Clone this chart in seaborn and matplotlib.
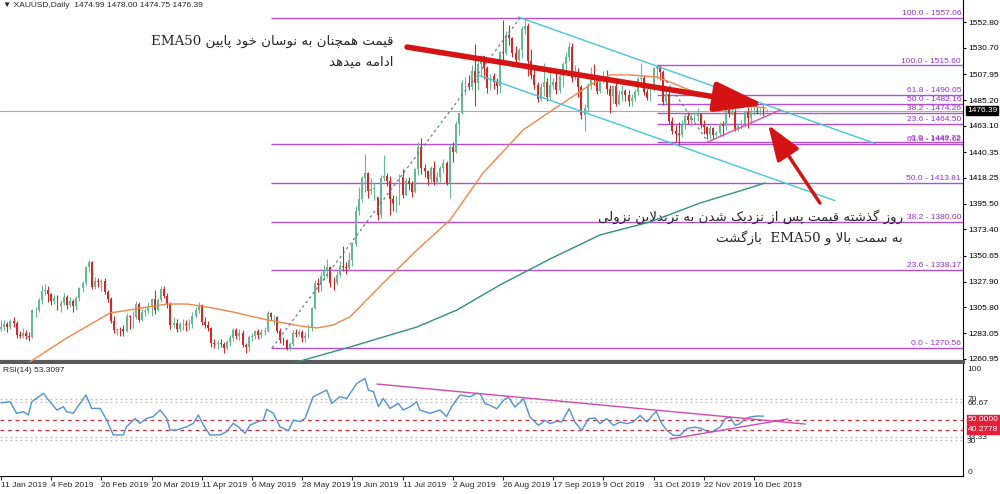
import re
import numpy as np
import matplotlib
matplotlib.use('Agg')
import matplotlib.pyplot as plt
import seaborn as sns

sns.set_theme(style='white')
plt.rcParams['font.family'] = ['Liberation Sans', 'DejaVu Sans']
plt.rcParams['axes.unicode_minus'] = False

# ---- داده ها: کندل های روزانه XAUUSD (اندیس کندل از 11 Jan 2019) ----
opens = [
    1287.0, 1289.0, 1291.5, 1288.5, 1294.0, 1292.0, 1282.0, 1280.5, 1283.5, 1281.0,
    1280.0, 1303.0, 1303.5, 1312.0, 1319.5, 1321.0, 1317.0, 1311.0, 1314.0, 1307.0,
    1309.5, 1314.5, 1308.0, 1311.0, 1306.5, 1314.0, 1322.5, 1327.0, 1340.5, 1345.0,
    1323.5, 1328.5, 1328.0, 1328.5, 1319.0, 1313.0, 1294.0, 1286.0, 1287.0, 1286.5,
    1285.0, 1298.5, 1297.0, 1297.5, 1309.0, 1295.0, 1302.0, 1302.5, 1306.0, 1313.0,
    1303.5, 1312.0, 1322.0, 1315.5, 1309.0, 1290.0, 1292.5, 1287.0, 1291.0, 1291.5,
    1290.0, 1291.5, 1298.0, 1303.0, 1307.5, 1293.0, 1290.5, 1287.5, 1274.5, 1273.5,
    1275.0, 1274.0, 1270.5, 1275.5, 1279.0, 1286.0, 1280.5, 1283.5, 1273.0, 1271.0,
    1280.0, 1281.0, 1285.0, 1281.5, 1284.5, 1285.5, 1300.5, 1297.0, 1297.5, 1285.5,
    1277.5, 1277.0, 1270.0, 1273.5, 1283.5, 1283.0, 1284.5, 1279.0, 1281.0, 1287.5,
    1305.5, 1327.0, 1325.5, 1333.0, 1337.0, 1341.0, 1327.0, 1326.5, 1334.0, 1341.5,
    1341.0, 1339.5, 1346.5, 1360.5, 1389.5, 1399.5, 1418.0, 1422.0, 1407.0, 1408.5,
    1401.0, 1385.5, 1417.5, 1420.0, 1415.0, 1399.5, 1396.0, 1396.5, 1419.0, 1403.5,
    1415.5, 1413.0, 1406.0, 1425.5, 1445.0, 1426.5, 1424.0, 1417.0, 1426.5, 1414.5,
    1419.0, 1427.0, 1430.5, 1413.5, 1445.0, 1440.5, 1464.5, 1474.0, 1500.0, 1500.5,
    1497.0, 1511.0, 1500.0, 1516.5, 1523.5, 1513.0, 1496.0, 1506.5, 1501.5, 1498.0,
    1527.0, 1526.0, 1542.0, 1539.0, 1526.5, 1520.5, 1529.0, 1547.0, 1549.5, 1519.5,
    1507.5, 1499.0, 1486.0, 1497.0, 1501.0, 1488.5, 1498.5, 1501.5, 1494.0, 1506.0,
    1516.5, 1523.0, 1531.5, 1504.5, 1505.0, 1497.0, 1472.5, 1479.0, 1499.0, 1506.5,
    1505.0, 1493.0, 1504.5, 1506.0, 1495.0, 1489.0, 1498.0, 1482.5, 1490.0, 1493.5,
    1490.0, 1484.5, 1487.5, 1492.5, 1504.0, 1505.0, 1492.5, 1487.5, 1495.5, 1513.0,
    1514.0, 1510.0, 1484.0, 1490.5, 1467.5, 1459.0, 1456.0, 1455.5, 1463.5, 1472.0,
    1468.5, 1471.5, 1472.0, 1473.0, 1464.0, 1462.0, 1456.0, 1461.0, 1455.0, 1457.0,
    1464.5, 1463.0, 1477.0, 1474.0, 1475.0, 1460.0, 1463.0, 1465.0, 1475.0, 1470.0,
    1476.0, 1476.0, 1475.0, 1475.5, 1474.99,
]
highs = [
    1294.5, 1295.0, 1293.0, 1296.0, 1297.5, 1294.0, 1285.0, 1288.0, 1286.0, 1284.0,
    1304.5, 1306.0, 1314.0, 1325.0, 1326.0, 1324.5, 1318.0, 1316.0, 1316.0, 1312.0,
    1318.0, 1316.0, 1314.5, 1313.0, 1315.5, 1323.0, 1328.5, 1342.0, 1346.8, 1346.0,
    1332.0, 1331.5, 1330.5, 1331.0, 1320.5, 1315.0, 1298.5, 1288.0, 1289.0, 1290.0,
    1301.0, 1299.5, 1302.5, 1311.0, 1310.0, 1304.5, 1305.0, 1310.0, 1314.0, 1320.5,
    1314.0, 1324.5, 1324.0, 1318.0, 1310.0, 1297.0, 1296.0, 1293.0, 1295.5, 1295.0,
    1296.0, 1302.0, 1306.0, 1310.5, 1309.0, 1297.5, 1294.0, 1289.0, 1278.0, 1277.5,
    1278.0, 1276.0, 1277.0, 1281.5, 1288.0, 1288.0, 1286.5, 1286.0, 1275.0, 1281.5,
    1283.5, 1286.0, 1287.0, 1287.0, 1289.0, 1302.5, 1301.5, 1299.5, 1298.0, 1288.0,
    1280.0, 1278.5, 1276.0, 1286.0, 1287.0, 1287.0, 1286.0, 1284.5, 1291.0, 1306.0,
    1329.0, 1331.0, 1336.0, 1342.5, 1348.0, 1341.5, 1332.0, 1337.5, 1346.0, 1358.5,
    1345.0, 1353.5, 1362.5, 1393.5, 1410.5, 1419.5, 1439.0, 1423.0, 1417.5, 1414.0,
    1401.5, 1420.5, 1437.5, 1422.0, 1420.0, 1403.0, 1403.5, 1421.0, 1425.5, 1417.5,
    1419.0, 1415.0, 1427.0, 1449.0, 1452.5, 1430.0, 1425.0, 1428.0, 1433.0, 1423.5,
    1428.0, 1434.0, 1432.5, 1447.0, 1449.5, 1467.5, 1474.5, 1502.5, 1505.5, 1507.5,
    1516.0, 1534.5, 1519.5, 1525.0, 1524.0, 1515.0, 1508.5, 1509.0, 1504.5, 1528.0,
    1555.0, 1545.5, 1550.5, 1540.0, 1532.0, 1530.5, 1549.5, 1557.0, 1552.5, 1530.0,
    1513.0, 1501.5, 1500.0, 1517.5, 1505.0, 1514.0, 1504.5, 1510.5, 1508.5, 1518.5,
    1527.0, 1535.5, 1535.0, 1516.0, 1513.0, 1498.5, 1482.0, 1500.0, 1514.0, 1517.0,
    1507.0, 1505.5, 1510.5, 1512.0, 1498.5, 1499.0, 1500.5, 1494.5, 1499.0, 1495.5,
    1494.0, 1491.0, 1495.5, 1505.5, 1518.0, 1507.0, 1495.0, 1497.5, 1514.0, 1516.5,
    1515.5, 1511.5, 1494.5, 1495.5, 1470.5, 1464.0, 1466.5, 1468.0, 1474.0, 1475.0,
    1474.0, 1475.5, 1478.5, 1474.5, 1468.5, 1463.0, 1463.5, 1462.5, 1458.5, 1466.5,
    1467.0, 1479.0, 1484.5, 1483.5, 1478.0, 1466.0, 1468.0, 1477.0, 1479.5, 1481.0,
    1479.5, 1480.5, 1478.5, 1481.0, 1478.0,
]
lows = [
    1285.5, 1286.0, 1284.5, 1287.0, 1289.0, 1279.5, 1279.0, 1279.0, 1278.5, 1276.5,
    1279.0, 1297.5, 1302.0, 1308.5, 1316.0, 1310.0, 1307.5, 1309.0, 1303.5, 1302.0,
    1308.0, 1304.5, 1306.0, 1302.0, 1303.5, 1311.0, 1319.0, 1325.0, 1336.0, 1321.5,
    1322.0, 1323.0, 1320.0, 1317.5, 1310.5, 1292.0, 1283.5, 1281.5, 1281.0, 1280.5,
    1284.0, 1286.5, 1288.0, 1296.0, 1293.0, 1294.0, 1298.0, 1301.0, 1298.5, 1300.0,
    1302.5, 1310.0, 1314.0, 1305.0, 1286.5, 1287.5, 1284.0, 1285.0, 1286.0, 1285.0,
    1286.0, 1288.0, 1296.5, 1300.5, 1290.5, 1288.0, 1285.5, 1271.5, 1270.5, 1270.0,
    1271.0, 1266.0, 1268.5, 1272.0, 1276.5, 1278.5, 1277.5, 1271.0, 1266.0, 1267.5,
    1276.5, 1278.0, 1278.5, 1279.0, 1282.0, 1284.5, 1294.5, 1290.0, 1283.5, 1274.5,
    1273.0, 1268.5, 1269.0, 1272.0, 1280.0, 1281.0, 1275.5, 1276.0, 1279.5, 1285.0,
    1304.0, 1319.0, 1320.0, 1329.0, 1331.0, 1323.5, 1321.0, 1325.5, 1332.0, 1337.5,
    1335.0, 1337.0, 1342.0, 1358.5, 1385.5, 1397.5, 1405.5, 1400.5, 1404.0, 1398.5,
    1381.5, 1383.0, 1415.0, 1411.0, 1386.0, 1389.0, 1388.0, 1394.5, 1400.5, 1402.0,
    1407.5, 1401.5, 1404.5, 1420.5, 1421.0, 1419.0, 1412.0, 1414.0, 1411.5, 1413.0,
    1414.5, 1422.0, 1411.5, 1400.5, 1431.5, 1440.0, 1455.0, 1473.0, 1489.5, 1494.5,
    1494.5, 1480.0, 1494.5, 1507.0, 1503.5, 1492.0, 1494.0, 1495.5, 1491.0, 1492.0,
    1515.5, 1525.0, 1533.0, 1522.5, 1518.0, 1519.0, 1522.0, 1543.0, 1506.0, 1504.0,
    1495.5, 1483.5, 1485.0, 1489.0, 1484.5, 1486.0, 1495.0, 1491.0, 1492.0, 1496.5,
    1511.0, 1519.5, 1501.5, 1502.5, 1488.5, 1469.5, 1459.0, 1475.5, 1495.0, 1499.0,
    1490.5, 1492.0, 1500.5, 1491.0, 1474.5, 1483.0, 1480.0, 1481.5, 1484.5, 1484.5,
    1480.5, 1480.0, 1484.5, 1490.0, 1502.0, 1489.5, 1485.5, 1484.5, 1493.5, 1504.0,
    1503.0, 1481.0, 1481.5, 1464.5, 1456.5, 1449.5, 1445.5, 1453.5, 1460.0, 1465.0,
    1463.0, 1466.5, 1467.0, 1461.0, 1456.5, 1451.5, 1452.0, 1451.5, 1453.5, 1454.0,
    1454.5, 1459.5, 1470.5, 1472.5, 1458.5, 1458.5, 1460.5, 1462.5, 1461.5, 1463.5,
    1472.5, 1473.0, 1472.5, 1472.0, 1474.75,
]
closes = [
    1289.0, 1291.5, 1288.5, 1294.0, 1292.0, 1282.0, 1280.5, 1283.5, 1281.0, 1280.0,
    1303.0, 1303.5, 1312.0, 1319.5, 1321.0, 1317.0, 1311.0, 1314.0, 1307.0, 1309.5,
    1314.5, 1308.0, 1311.0, 1306.5, 1314.0, 1322.5, 1327.0, 1340.5, 1345.0, 1323.5,
    1328.5, 1328.0, 1328.5, 1319.0, 1313.0, 1294.0, 1286.0, 1287.0, 1286.5, 1285.0,
    1298.5, 1297.0, 1297.5, 1309.0, 1295.0, 1302.0, 1302.5, 1306.0, 1313.0, 1303.5,
    1312.0, 1322.0, 1315.5, 1309.0, 1290.0, 1292.5, 1287.0, 1291.0, 1291.5, 1290.0,
    1291.5, 1298.0, 1303.0, 1307.5, 1293.0, 1290.5, 1287.5, 1274.5, 1273.5, 1275.0,
    1274.0, 1270.5, 1275.5, 1279.0, 1286.0, 1280.5, 1283.5, 1273.0, 1271.0, 1280.0,
    1281.0, 1285.0, 1281.5, 1284.5, 1285.5, 1300.5, 1297.0, 1297.5, 1285.5, 1277.5,
    1277.0, 1270.0, 1273.5, 1283.5, 1283.0, 1284.5, 1279.0, 1281.0, 1287.5, 1305.5,
    1327.0, 1325.5, 1333.0, 1337.0, 1341.0, 1327.0, 1326.5, 1334.0, 1341.5, 1341.0,
    1339.5, 1346.5, 1360.5, 1389.5, 1399.5, 1418.0, 1422.0, 1407.0, 1408.5, 1409.0,
    1385.5, 1417.5, 1420.0, 1415.0, 1399.5, 1396.0, 1396.5, 1419.0, 1403.5, 1415.5,
    1413.0, 1406.0, 1425.5, 1445.0, 1426.5, 1424.0, 1417.0, 1426.5, 1414.5, 1419.0,
    1427.0, 1430.5, 1413.5, 1445.0, 1440.5, 1464.5, 1474.0, 1500.0, 1500.5, 1497.0,
    1511.0, 1500.0, 1516.5, 1523.5, 1513.0, 1496.0, 1506.5, 1501.5, 1498.0, 1527.0,
    1526.0, 1542.0, 1539.0, 1526.5, 1520.5, 1529.0, 1547.0, 1549.5, 1519.5, 1507.5,
    1499.0, 1486.0, 1497.0, 1501.0, 1488.5, 1498.5, 1501.5, 1494.0, 1506.0, 1516.5,
    1523.0, 1531.5, 1504.5, 1505.0, 1497.0, 1472.5, 1479.0, 1499.0, 1506.5, 1505.0,
    1493.0, 1504.5, 1506.0, 1495.0, 1489.0, 1498.0, 1482.5, 1490.0, 1493.5, 1490.0,
    1484.5, 1487.5, 1492.5, 1504.0, 1505.0, 1492.5, 1487.5, 1495.5, 1513.0, 1514.0,
    1510.0, 1484.0, 1490.5, 1467.5, 1459.0, 1456.0, 1455.5, 1463.5, 1472.0, 1468.5,
    1471.5, 1472.0, 1473.0, 1464.0, 1462.0, 1456.0, 1461.0, 1455.0, 1457.0, 1464.5,
    1463.0, 1477.0, 1474.0, 1475.0, 1460.0, 1463.0, 1465.0, 1475.0, 1470.0, 1476.0,
    1476.0, 1475.0, 1475.5, 1475.0, 1476.39,
]

# EMA50 و EMA200 (نقاط خوانده شده از تصویر: اندیس کندل، قیمت)
ema50_bar = [0, 10.2, 21, 34.7, 52.9, 59.3, 65.7, 73.9, 84.8, 95.3, 100.7, 105.8, 111.2,
             121.8, 132.6, 143.1, 153.6, 159, 166.4, 177.2, 187.7, 194.1, 200.5, 209.1,
             215.5, 221.8, 230.1, 240.9, 243.8]
ema50_val = [1244.0, 1260.1, 1279.2, 1300.8, 1308.6, 1308.6, 1306.0, 1301.7, 1294.8, 1289.6,
             1287.8, 1290.4, 1297.4, 1326.8, 1355.5, 1381.5, 1422.2, 1437.9, 1459.6, 1479.5,
             1498.6, 1507.3, 1507.3, 1505.5, 1498.6, 1491.6, 1483.8, 1479.5, 1478.6]
ema200_bar = [87.3, 94.3, 111.2, 132.6, 145.3, 159, 175, 190.9, 206.9, 222.8, 236.5, 243.5]
ema200_val = [1254.9, 1258.3, 1271.3, 1288.7, 1303.4, 1325.1, 1347.7, 1368.5, 1379.8,
              1396.2, 1407.5, 1413.6]

# سطوح فیبوناچی
fib1_names = ['0.0', '23.6', '38.2', '50.0', '61.8', '100.0']
fib1_levels = [1270.56, 1338.17, 1380.00, 1413.81, 1447.62, 1557.06]
fib2_names = ['0.0', '23.6', '38.2', '50.0', '61.8', '100.0']
fib2_levels = [1448.72, 1464.50, 1474.26, 1482.16, 1490.05, 1515.60]
fib1_start = 86
fib2_start = 209

# خطوط رسم شده (اندیس کندل، قیمت)
channel_top = ([164.8, 278.6], [1557.6, 1447.8])
channel_bottom = ([152, 265.8], [1507.3, 1398.3])
fib1_trend = ([86.4, 165.4], [1270.5, 1556.7])
fib2_trend = ([209, 225.3], [1514.2, 1449.2])
pink_trend = ([225.3, 248.3], [1449.2, 1476.9])

# RSI(14)
rsi_bar = [0, 2.9, 5, 7.1, 8.7, 9.8, 13.5, 15.6, 17.8, 19.9, 20.9, 23, 25.2, 27.1, 28.9,
           31.6, 33.7, 35.8, 39, 40, 42.7, 44.3, 46.4, 48.5, 50.7, 52.8, 53.9, 56, 59.2,
           61.3, 62.9, 64.5, 66.6, 69.8, 71.9, 74, 75.6, 77.8, 79.4, 82, 83.6, 84.7, 86.8,
           88.9, 91.6, 93.2, 95.3, 96.9, 99.5, 103.8, 105.4, 108, 110.2, 113.4, 116, 117.1,
           118.7, 120.3, 121.8, 124, 126.6, 128.2, 130.4, 132.5, 133.5, 136.7, 139.9, 142,
           143.6, 146.3, 149.5, 151.6, 152.7, 154.3, 155.9, 158, 160.1, 161.7, 163.8, 166.5,
           168.6, 171.3, 173.4, 175, 177.1, 178.7, 181.1, 182.9, 185.1, 187.2, 189.3, 190.9,
           193, 195.2, 197.3, 199.4, 201.5, 203.7, 205.8, 208.8, 210.6, 212.2, 214.3, 216.4,
           218.5, 221.2, 223.3, 225.4, 227, 229.2, 230.8, 232.4, 234, 235.5, 237.1, 238.7,
           240.9, 243]
rsi_val = [66.3, 67.3, 56, 57.6, 54.4, 67.3, 75.4, 67.3, 59.2, 62.5, 57.6, 56, 65.7, 73.8,
           60.8, 60.8, 49.5, 35, 35, 43, 51.1, 46.3, 51.1, 52.8, 59.2, 51.1, 39.8, 39.8, 43,
           46.3, 54.4, 44.7, 35, 35, 38.2, 46.3, 43, 36.6, 44.7, 47.9, 49.5, 59.9, 56, 43,
           39.1, 49.5, 47.9, 51.1, 72.1, 78.6, 65.7, 72.1, 70.5, 85, 89.9, 78.6, 77, 62.5,
           70.5, 60.8, 65.7, 59.2, 62.5, 67.3, 59.2, 56, 59.2, 52.8, 62.5, 73.8, 72.1, 75.4,
           75, 65.4, 63.7, 60.5, 68.6, 71.8, 62.1, 70.2, 52.4, 44.3, 49.2, 46, 48.2, 47.6,
           60.5, 47.6, 39.5, 50.8, 51.5, 46, 50.8, 44.3, 47.6, 46, 47.6, 54, 47.6, 58, 46,
           39.5, 34.6, 34.6, 41.1, 42.7, 41.1, 37.9, 38.5, 42.7, 50.8, 52.4, 44.3, 46, 50.8,
           52.4, 53.4, 53.3]
rsi_top_trend = ([119.8, 256.3], [84.5, 45.6])
rsi_low_trend = ([213.2, 250.8], [31.1, 50.5])

price_ticks = [1260.95, 1283.05, 1305.80, 1327.90, 1350.65, 1373.40, 1395.50, 1418.25,
               1440.35, 1463.10, 1485.20, 1507.95, 1530.70, 1552.80]
date_ticks = [0, 16, 32, 48, 64, 80, 96, 112, 128, 144, 160, 176, 192, 208, 224, 240]
date_labels = ['11 Jan 2019', '4 Feb 2019', '26 Feb 2019', '20 Mar 2019', '11 Apr 2019',
               '6 May 2019', '28 May 2019', '19 Jun 2019', '11 Jul 2019', '2 Aug 2019',
               '26 Aug 2019', '17 Sep 2019', '9 Oct 2019', '31 Oct 2019', '22 Nov 2019',
               '16 Dec 2019']
last_price = 1476.39

note1 = ['قیمت همچنان به نوسان خود پایین EMA50', 'ادامه میدهد']
note2 = ['روز گذشته قیمت پس از نزدیک شدن به ترندلاین نزولی', 'به سمت بالا و EMA50  بازگشت']

GREEN = '#66B992'
RED = '#D22828'
FIB_LINE = '#B24FD3'
FIB_TEXT = '#9A2FD6'
CYAN = '#46C6D8'
SMALL = 6.0

# شکل دهی حروف فارسی (matplotlib خودش اتصال حروف و راست به چپ را انجام نمی دهد)
FORMS = {
    '\u0627': ('\uFE8D', '\uFE8E', None, None),
    '\u0628': ('\uFE8F', '\uFE90', '\uFE91', '\uFE92'),
    '\u067E': ('\uFB56', '\uFB57', '\uFB58', '\uFB59'),
    '\u062A': ('\uFE95', '\uFE96', '\uFE97', '\uFE98'),
    '\u0686': ('\uFB7A', '\uFB7B', '\uFB7C', '\uFB7D'),
    '\u062E': ('\uFEA5', '\uFEA6', '\uFEA7', '\uFEA8'),
    '\u062F': ('\uFEA9', '\uFEAA', None, None),
    '\u0630': ('\uFEAB', '\uFEAC', None, None),
    '\u0631': ('\uFEAD', '\uFEAE', None, None),
    '\u0632': ('\uFEAF', '\uFEB0', None, None),
    '\u0633': ('\uFEB1', '\uFEB2', '\uFEB3', '\uFEB4'),
    '\u0634': ('\uFEB5', '\uFEB6', '\uFEB7', '\uFEB8'),
    '\u0642': ('\uFED5', '\uFED6', '\uFED7', '\uFED8'),
    '\u06A9': ('\uFB8E', '\uFB8F', '\uFB90', '\uFB91'),
    '\u06AF': ('\uFB92', '\uFB93', '\uFB94', '\uFB95'),
    '\u0644': ('\uFEDD', '\uFEDE', '\uFEDF', '\uFEE0'),
    '\u0645': ('\uFEE1', '\uFEE2', '\uFEE3', '\uFEE4'),
    '\u0646': ('\uFEE5', '\uFEE6', '\uFEE7', '\uFEE8'),
    '\u0647': ('\uFEE9', '\uFEEA', '\uFEEB', '\uFEEC'),
    '\u0648': ('\uFEED', '\uFEEE', None, None),
    '\u06CC': ('\uFBFC', '\uFBFD', '\uFBFE', '\uFBFF'),
}


def shape_fa(text):
    chars = list(text.replace('\u064A', '\u06CC').replace('\u0643', '\u06A9'))
    res = []
    i = 0
    while i < len(chars):
        c = chars[i]
        if c not in FORMS:
            res.append(c)
            i += 1
            continue
        prev = chars[i - 1] if i > 0 else None
        prev_join = prev in FORMS and FORMS[prev][2] is not None
        if c == '\u0644' and i + 1 < len(chars) and chars[i + 1] == '\u0627':
            res.append('\uFEFC' if prev_join else '\uFEFB')
            i += 2
            continue
        nxt = chars[i + 1] if i + 1 < len(chars) else None
        next_is = nxt in FORMS
        iso, fin, ini, med = FORMS[c]
        if ini is None:
            res.append(fin if prev_join else iso)
        elif prev_join and next_is:
            res.append(med)
        elif prev_join:
            res.append(fin)
        elif next_is:
            res.append(ini)
        else:
            res.append(iso)
        i += 1
    tokens = re.findall(r'[A-Za-z0-9.]+|.', ''.join(res))
    return ''.join(reversed(tokens))


bars = np.arange(len(closes))
o = np.array(opens)
c = np.array(closes)
colors = np.where(c >= o, GREEN, RED)

fig = plt.figure(figsize=(10, 4.94), dpi=100)
ax = fig.add_axes([0.0, 0.2672, 0.963, 0.7328])
rsi_ax = fig.add_axes([0.0, 0.0364, 0.963, 0.2267])
XMIN, XMAX = -0.32, 306.6

# fib lines
ax.hlines(fib1_levels, fib1_start, XMAX, colors=FIB_LINE, lw=1.0, zorder=1)
ax.hlines(fib2_levels, fib2_start, XMAX, colors=FIB_LINE, lw=1.0, zorder=1)
for name, lv in zip(fib1_names + fib2_names, fib1_levels + fib2_levels):
    ax.text(306.0, lv + 0.7, f'{name} - {lv:.2f}', ha='right', va='bottom',
            color=FIB_TEXT, fontsize=SMALL)
ax.axhline(last_price, color='#A9A9A9', lw=0.8, zorder=1)

# candles
ax.vlines(bars, lows, highs, colors=colors, lw=0.8, zorder=3)
ax.bar(bars, np.maximum(np.abs(c - o), 0.4), bottom=np.minimum(o, c), width=0.62,
       color=colors, linewidth=0, zorder=4)

# moving averages
sns.lineplot(x=ema50_bar, y=ema50_val, ax=ax, color='#F2864A', lw=1.0, zorder=5)
sns.lineplot(x=ema200_bar, y=ema200_val, ax=ax, color='#2F8F8A', lw=1.0, zorder=5)

# trend / channel lines
ax.plot(*channel_top, color=CYAN, lw=1.0, zorder=5)
ax.plot(*channel_bottom, color=CYAN, lw=1.0, zorder=5)
ax.plot(*fib1_trend, color='#5E7E96', lw=0.9, ls=(0, (2, 2.5)), zorder=5)
ax.plot(*fib2_trend, color='#5E7E96', lw=0.9, ls=(0, (2, 2.5)), zorder=5)
ax.plot(*pink_trend, color='#E04FB5', lw=1.0, zorder=5)

# red arrows
ax.annotate('', xy=(243.5, 1481.2), xytext=(129.4, 1531.5),
            arrowprops=dict(arrowstyle='-|>,head_length=1.5,head_width=0.45',
                            color='#D41414', lw=4, mutation_scale=20,
                            shrinkA=0, shrinkB=0), zorder=6)
ax.annotate('', xy=(244.5, 1463.9), xytext=(261, 1396.2),
            arrowprops=dict(arrowstyle='-|>,head_length=1.1,head_width=0.4',
                            color='#D41414', lw=2.5, mutation_scale=20,
                            shrinkA=0, shrinkB=0), zorder=6)

# notes
fa_family = ['DejaVu Serif', 'DejaVu Sans']
ax.text(125, 1536.7, shape_fa(note1[0]), ha='right', va='center', fontsize=9.6, family=fa_family)
ax.text(125, 1518.5, shape_fa(note1[1]), ha='right', va='center', fontsize=9.6, family=fa_family)
ax.text(287.5, 1384.1, shape_fa(note2[0]), ha='right', va='center', fontsize=9.6, family=fa_family)
ax.text(287.5, 1365.9, shape_fa(note2[1]), ha='right', va='center', fontsize=9.6, family=fa_family)

ax.text(0.003, 0.995, '\u25BC XAUUSD,Daily  1474.99 1478.00 1474.75 1476.39',
        transform=ax.transAxes, ha='left', va='top', fontsize=SMALL)

ax.set_xlim(XMIN, XMAX)
ax.set_ylim(1258.3, 1572.3)
ax.set_xticks([])
ax.set_yticks(price_ticks)
ax.set_yticklabels([f'{v:.2f}' for v in price_ticks])
ax.yaxis.tick_right()
ax.tick_params(axis='y', direction='out', length=2.5, width=0.8, labelsize=SMALL, pad=1.5,
               colors='black')
ax.set_xlabel('')
ax.set_ylabel('')
for s in ['top', 'left']:
    ax.spines[s].set_visible(False)
ax.spines['right'].set_color('black')
ax.spines['right'].set_linewidth(0.8)
ax.spines['bottom'].set_color('#5A5A5A')
ax.spines['bottom'].set_linewidth(3)
ax.annotate(f'{last_price:.2f}', xy=(1.004, last_price), xycoords=('axes fraction', 'data'),
            ha='left', va='center', fontsize=SMALL, color='white',
            bbox=dict(boxstyle='square,pad=0.12', fc='black', ec='black'), annotation_clip=False)

# ---- RSI ----
for lv in [70, 66.67, 33.33, 30]:
    rsi_ax.axhline(lv, color='#BDBDBD', lw=0.9, ls=(0, (1.5, 2.5)))
for lv in [50, 40.2778]:
    rsi_ax.axhline(lv, color='#E0283C', lw=0.9, ls=(0, (3, 3)))
sns.lineplot(x=rsi_bar, y=rsi_val, ax=rsi_ax, color='#4F93D2', lw=1.0)
rsi_ax.plot(*rsi_top_trend, color='#D24AAE', lw=1.0)
rsi_ax.plot(*rsi_low_trend, color='#D24AAE', lw=1.0)
rsi_ax.text(0.003, 0.97, 'RSI(14) 53.3097', transform=rsi_ax.transAxes, ha='left',
            va='top', fontsize=SMALL)

rsi_ax.set_xlim(XMIN, XMAX)
rsi_ax.set_ylim(-4.85, 103.9)
rsi_ax.yaxis.tick_right()
rsi_ax.set_yticks([0, 30, 33.33, 66.67, 70, 100])
rsi_ax.set_yticklabels(['0', '30', '33.33', '66.67', '70', '100'])
rsi_ax.tick_params(axis='y', length=0, labelsize=SMALL, pad=3)
rsi_ax.set_xticks(date_ticks)
rsi_ax.set_xticklabels(date_labels, ha='left')
rsi_ax.tick_params(axis='x', direction='out', length=3, width=0.8, labelsize=SMALL, pad=1,
                   bottom=True)
rsi_ax.set_xlabel('')
rsi_ax.set_ylabel('')
for s in ['top', 'left']:
    rsi_ax.spines[s].set_visible(False)
for s in ['right', 'bottom']:
    rsi_ax.spines[s].set_color('black')
    rsi_ax.spines[s].set_linewidth(0.8)
for lv, txt in [(50, '50.0000'), (40.2778, '40.2778')]:
    rsi_ax.annotate(txt, xy=(1.005, lv), xycoords=('axes fraction', 'data'), ha='left',
                    va='center', fontsize=SMALL, color='white',
                    bbox=dict(boxstyle='square,pad=0.12', fc='#E3203A', ec='#E3203A'),
                    annotation_clip=False)

fig.savefig('out.png', dpi=100)
